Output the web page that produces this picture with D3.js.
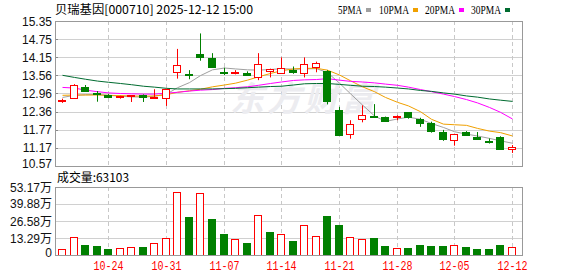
<!DOCTYPE html>
<html>
<head>
<meta charset="utf-8">
<script src="https://cdn.jsdelivr.net/npm/d3@7"></script>
<style>
  body { margin: 0; background: #fff; }
  text { font-family: "Liberation Sans", Arial, "Noto Sans CJK SC", sans-serif; font-size: 12px; }
</style>
</head>
<body>
<script>
    // trading days (10-20 .. 12-12)
    const dates = ['10-20', '10-21', '10-22', '10-23', '10-24', '10-27', '10-28', '10-29', '10-30', '10-31',
        '11-03', '11-04', '11-05', '11-06', '11-07', '11-10', '11-11', '11-12', '11-13', '11-14',
        '11-17', '11-18', '11-19', '11-20', '11-21', '11-24', '11-25', '11-26', '11-27', '11-28',
        '12-01', '12-02', '12-03', '12-04', '12-05', '12-08', '12-09', '12-10', '12-11', '12-12']

    const open = [12.72, 12.79, 13.16, 12.99, 12.90, 12.86, 12.88, 12.90, 12.84, 12.79,
        13.66, 13.61, 14.27, 14.13, 13.67, 13.64, 13.64, 13.49, 13.70, 13.66,
        13.74, 13.62, 13.84, 13.70, 12.41, 11.64, 12.10, 12.21, 12.20, 12.19,
        12.35, 12.13, 11.98, 11.69, 11.41, 11.69, 11.54, 11.41, 11.52, 11.11]
    const high = [12.79, 13.27, 13.24, 13.04, 12.94, 12.89, 12.91, 12.93, 13.10, 13.12,
        14.43, 13.73, 14.94, 14.29, 13.81, 13.73, 13.69, 14.29, 13.78, 14.15,
        13.85, 14.15, 14.01, 13.73, 12.52, 12.08, 12.57, 12.61, 12.20, 12.24,
        12.35, 12.16, 12.03, 11.76, 11.62, 11.72, 11.69, 11.48, 11.55, 11.26]
    const low = [12.65, 12.78, 13.02, 12.69, 12.81, 12.79, 12.68, 12.68, 12.79, 12.55,
        13.45, 13.43, 14.04, 13.81, 13.57, 13.59, 13.55, 13.40, 13.49, 13.66,
        13.61, 13.49, 13.66, 12.60, 11.60, 11.47, 12.01, 12.18, 12.02, 12.08,
        12.13, 11.86, 11.67, 11.40, 11.24, 11.57, 11.47, 11.31, 11.13, 11.00]
    const close = [12.74, 13.23, 13.03, 12.95, 12.82, 12.87, 12.90, 12.84, 12.86, 13.10,
        13.90, 13.59, 14.17, 13.82, 13.65, 13.66, 13.57, 13.92, 13.78, 13.81,
        13.69, 13.92, 13.96, 12.72, 11.60, 11.97, 12.24, 12.20, 12.07, 12.23,
        12.18, 12.01, 11.70, 11.47, 11.61, 11.60, 11.47, 11.39, 11.13, 11.19]
    // volume, hands
    const volume = [47000, 140000, 78000, 70000, 47000, 52000, 60000, 62000, 91000, 132000,
        495000, 296000, 488000, 280000, 163000, 122000, 93000, 316000, 179000, 161000,
        109000, 231000, 145000, 304000, 233000, 140000, 122000, 132000, 70000, 52000,
        54000, 78000, 70000, 70000, 75000, 62000, 47000, 47000, 78000, 63103]

    const ma5 = [12.83, 12.90, 12.92, 12.93, 12.90, 12.87, 12.85, 12.84, 12.87, 12.94,
        13.15, 13.32, 13.55, 13.74, 13.80, 13.77, 13.74, 13.73, 13.75, 13.78,
        13.76, 13.77, 13.78, 13.65, 13.30, 12.95, 12.58, 12.22, 12.04, 12.12,
        12.18, 12.11, 11.97, 11.84, 11.70, 11.62, 11.56, 11.48, 11.40, 11.32]
    const ma10 = [12.90, 12.91, 12.91, 12.91, 12.90, 12.89, 12.88, 12.87, 12.88, 12.92,
        13.00, 13.05, 13.10, 13.18, 13.24, 13.30, 13.40, 13.51, 13.62, 13.71,
        13.77, 13.79, 13.79, 13.73, 13.57, 13.38, 13.18, 13.02, 12.83, 12.67,
        12.55, 12.36, 12.11, 11.95, 11.93, 11.91, 11.81, 11.72, 11.67, 11.56]
    const ma20 = [13.16, 13.14, 13.07, 13.02, 12.98, 12.96, 12.95, 12.94, 12.94, 12.97,
        13.00, 13.04, 13.07, 13.09, 13.13, 13.15, 13.18, 13.23, 13.29, 13.34,
        13.39, 13.41, 13.42, 13.45, 13.40, 13.36, 13.34, 13.31, 13.27, 13.23,
        13.17, 13.09, 13.02, 12.94, 12.86, 12.76, 12.65, 12.50, 12.34, 12.12]
    const ma30 = [13.56, 13.49, 13.43, 13.37, 13.33, 13.29, 13.25, 13.20, 13.17, 13.13,
        13.11, 13.11, 13.11, 13.11, 13.12, 13.13, 13.15, 13.17, 13.19, 13.20,
        13.24, 13.28, 13.29, 13.29, 13.26, 13.23, 13.20, 13.19, 13.17, 13.14,
        13.11, 13.06, 13.03, 12.98, 12.94, 12.88, 12.84, 12.78, 12.74, 12.70]

    const priceTicks = [10.57, 11.17, 11.77, 12.36, 12.96, 13.56, 14.15, 14.75, 15.35]
    const volTicks = [0, 132900, 265800, 398800, 531700]
    const volTickLabels = ['0', '13.29万', '26.58万', '39.88万', '53.17万']
    const dateTicks = ['10-24', '10-31', '11-07', '11-14', '11-21', '11-28', '12-05', '12-12']

    const maNames = ['5PMA', '10PMA', '20PMA', '30PMA']
    const maColors = ['#a0a0a0', '#f0a000', '#ff00ff', '#006b30']

    const UP = '#ff0000', DOWN = '#008000'

    const candles = dates.map((d, i) => ({
        date: d, o: open[i], h: high[i], l: low[i], c: close[i], v: volume[i],
        // volume colour follows close vs previous close
        volUp: i === 0 ? close[i] >= open[i] : close[i] >= close[i - 1]
    }))

    const svg = d3.select('body').append('svg')
        .attr('width', 578).attr('height', 276)

    const left = 55, right = 522
    const mainTop = 21, mainBot = 166
    const volTop = 187, volBot = 255

    const x = d3.scaleBand().domain(dates).range([56.2, 517.8])
    const cx = d => Math.round(x(d) + x.bandwidth() / 2) + 0.5
    const y = d3.scaleLinear().domain([10.57, 15.35]).range([mainBot, mainTop])
    const yv = d3.scaleLinear().domain([0, 531700]).range([volBot, volTop])

    // ---- header
    svg.append('text').attr('x', 55).attr('y', 14)
        .attr('textLength', 198).attr('lengthAdjust', 'spacingAndGlyphs')
        .style('font-family', '"Noto Sans CJK SC", sans-serif')
        .text('贝瑞基因[000710] 2025-12-12 15:00')

    const legendX = [338, 379, 425, 471]
    maNames.forEach((n, i) => {
        svg.append('text').attr('x', legendX[i]).attr('y', 14)
            .attr('textLength', n.length * 6).attr('lengthAdjust', 'spacingAndGlyphs')
            .style('font-family', '"Liberation Serif", serif')
            .text(n)
        svg.append('rect').attr('x', legendX[i] + n.length * 6 + 4).attr('y', 8)
            .attr('width', 5).attr('height', 4).attr('fill', maColors[i])
    })

    // ---- main panel grid
    const mainG = svg.append('g')
    mainG.selectAll('.hg').data(priceTicks).enter().append('line')
        .attr('x1', left).attr('x2', right)
        .attr('y1', d => Math.round(y(d)) + 0.5).attr('y2', d => Math.round(y(d)) + 0.5)
        .attr('stroke', '#d0d0d0')
    mainG.selectAll('.vg').data(dateTicks).enter().append('line')
        .attr('x1', d => cx(d)).attr('x2', d => cx(d))
        .attr('y1', mainTop).attr('y2', mainBot)
        .attr('stroke', '#c8c8c8').attr('stroke-dasharray', '4,3')

    // watermark
    mainG.append('text').attr('x', 230).attr('y', 111)
        .style('font-family', '"Noto Sans CJK SC", sans-serif')
        .style('font-size', '34px').style('font-weight', 'bold').style('font-style', 'italic')
        .attr('fill', '#ececf0').attr('letter-spacing', 3)
        .text('东方财富')

    // y labels
    svg.selectAll('.pl').data(priceTicks).enter().append('text')
        .attr('x', 52).attr('y', d => Math.min(y(d), mainBot - 3) + 4.5)
        .attr('text-anchor', 'end').attr('fill', '#111')
        .text(d => d.toFixed(2))
    svg.selectAll('.pt').data(priceTicks).enter().append('line')
        .attr('x1', left).attr('x2', left + 3)
        .attr('y1', d => Math.round(y(d)) + 0.5).attr('y2', d => Math.round(y(d)) + 0.5)
        .attr('stroke', '#888')
    svg.append('line').attr('x1', left + 3).attr('x2', left + 5)
        .attr('y1', Math.round(y(12.75)) + 0.5).attr('y2', Math.round(y(12.75)) + 0.5)
        .attr('stroke', UP)

    // ---- MA lines
    const maData = [ma5, ma10, ma20, ma30]
    const line = d3.line().x((d, i) => cx(dates[i])).y(d => y(d))
    maData.forEach((arr, k) => {
        mainG.append('path').attr('d', line(arr))
            .attr('fill', 'none').attr('stroke', maColors[k]).attr('stroke-width', 1)
    })

    // ---- candles
    const bw = 8
    const cg = mainG.selectAll('.candle').data(candles).enter().append('g')
    cg.append('line')
        .attr('x1', d => cx(d.date)).attr('x2', d => cx(d.date))
        .attr('y1', d => y(d.h)).attr('y2', d => y(d.l))
        .attr('stroke', d => d.c >= d.o ? UP : DOWN)
    cg.append('rect')
        .attr('x', d => cx(d.date) - bw / 2)
        .attr('width', bw - 1)
        .attr('y', d => Math.round(y(Math.max(d.o, d.c))) + 0.5)
        .attr('height', d => Math.max(1, Math.round(y(Math.min(d.o, d.c)) - y(Math.max(d.o, d.c)))))
        .attr('fill', d => d.c >= d.o ? '#fff' : DOWN)
        .attr('stroke', d => d.c >= d.o ? UP : DOWN)

    // frame
    svg.append('rect').attr('x', left + 0.5).attr('y', mainTop + 0.5)
        .attr('width', right - left).attr('height', mainBot - mainTop)
        .attr('fill', 'none').attr('stroke', '#999')

    // ---- volume panel
    svg.append('text').attr('x', 57).attr('y', 182)
        .attr('textLength', 72).attr('lengthAdjust', 'spacingAndGlyphs')
        .style('font-family', '"Noto Sans CJK SC", sans-serif')
        .text('成交量:' + volume[volume.length - 1])

    const volG = svg.append('g')
    volG.selectAll('.vhg').data(volTicks).enter().append('line')
        .attr('x1', left).attr('x2', right)
        .attr('y1', d => Math.round(yv(d)) + 0.5).attr('y2', d => Math.round(yv(d)) + 0.5)
        .attr('stroke', '#d0d0d0')
    volG.selectAll('.vvg').data(dateTicks).enter().append('line')
        .attr('x1', d => cx(d)).attr('x2', d => cx(d))
        .attr('y1', volTop).attr('y2', volBot)
        .attr('stroke', '#c8c8c8').attr('stroke-dasharray', '4,3')

    svg.selectAll('.vl').data(volTicks).enter().append('text')
        .attr('x', 52).attr('y', d => Math.min(yv(d), volBot - 3) + 4.5)
        .attr('text-anchor', 'end').attr('fill', '#111')
        .text((d, i) => volTickLabels[i])

    volG.selectAll('.vbar').data(candles).enter().append('rect')
        .attr('x', d => cx(d.date) - bw / 2)
        .attr('width', bw - 1)
        .attr('y', d => Math.round(yv(d.v)) + 0.5)
        .attr('height', d => volBot - Math.round(yv(d.v)))
        .attr('fill', d => d.volUp ? '#fff' : DOWN)
        .attr('stroke', d => d.volUp ? UP : DOWN)

    svg.append('rect').attr('x', left + 0.5).attr('y', volTop + 0.5)
        .attr('width', right - left).attr('height', volBot - volTop)
        .attr('fill', 'none').attr('stroke', '#999')

    // date labels
    svg.selectAll('.dl').data(dateTicks).enter().append('text')
        .attr('x', d => cx(d)).attr('y', 270)
        .attr('text-anchor', 'middle').attr('fill', UP)
        .attr('textLength', 30).attr('lengthAdjust', 'spacingAndGlyphs')
        .style('font-family', '"Liberation Mono", monospace')
        .text(d => d)
</script>
</body>
</html>
